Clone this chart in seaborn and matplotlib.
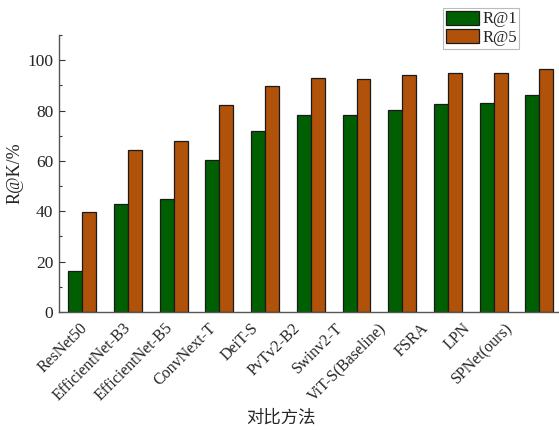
import matplotlib
matplotlib.use("Agg")
import matplotlib.pyplot as plt
from matplotlib.ticker import MultipleLocator
from matplotlib.patches import Patch
import seaborn as sns
import pandas as pd

methods = ["ResNet50", "EfficientNet-B3", "EfficientNet-B5", "ConvNext-T", "DeiT-S",
           "PvTv2-B2", "Swinv2-T", "ViT-S(Baseline)", "FSRA", "LPN", "SPNet(ours)"]
r1 = [16.4, 43.0, 45.0, 60.3, 71.8, 78.1, 78.1, 80.4, 82.7, 83.1, 86.1]
r5 = [39.6, 64.5, 67.8, 82.1, 89.8, 92.8, 92.5, 94.0, 95.1, 95.1, 96.6]
series = ["R@1", "R@5"]
colors = ["#005f00", "#b0520a"]

df = pd.DataFrame({
    "method": methods * 2,
    "value": r1 + r5,
    "metric": [series[0]] * len(methods) + [series[1]] * len(methods),
})

sns.set_style("white")
plt.rcParams["font.family"] = ["Liberation Serif", "DejaVu Serif"]

fig = plt.figure(figsize=(5.59, 4.30), dpi=100)
ax = fig.add_axes([59 / 559, 1 - 312 / 430, 1 - 59 / 559, (312 - 35) / 430])

sns.barplot(data=df, x="method", y="value", hue="metric", palette=colors,
            width=0.61, edgecolor="#1a1a1a", linewidth=0.9, saturation=1,
            ax=ax, legend=False)

ax.set_xlim(-0.51, 10.43)
ax.set_ylim(0, 110)
ax.yaxis.set_major_locator(MultipleLocator(20))
ax.yaxis.set_minor_locator(MultipleLocator(10))
ax.tick_params(axis="y", which="major", direction="in", length=4, width=0.8,
               labelsize=12.5, left=True, color="#333333", pad=4)
ax.tick_params(axis="y", which="minor", direction="in", length=2.5, width=0.8,
               left=True, color="#333333")

# tick labels in the reference are spaced slightly tighter than the bar groups
label_pos = [-0.05 + 0.93 * i for i in range(len(methods))]
ax.set_xticks(label_pos)
ax.set_xticklabels(methods)
ax.tick_params(axis="x", length=0, labelsize=11.5, pad=6)
for lab in ax.get_xticklabels():
    lab.set_rotation(45)
    lab.set_ha("right")
    lab.set_rotation_mode("anchor")

for side in ["top", "right"]:
    ax.spines[side].set_visible(False)
for side in ["left", "bottom"]:
    ax.spines[side].set_color("#555555")
    ax.spines[side].set_linewidth(1.0)

ax.set_ylabel("R@K/%", fontsize=13, labelpad=3)
ax.set_xlabel("对比方法", fontsize=12.5, family=["Noto Sans CJK SC", "DejaVu Sans"], va="center")
ax.xaxis.set_label_coords((281 - 59) / 500, (312 - 418) / 277)

handles = [Patch(facecolor=c, edgecolor="#1a1a1a", linewidth=0.9) for c in colors]
leg = fig.legend(handles, series, loc="upper left", bbox_to_anchor=(443 / 559, 1 - 8 / 430),
                 fontsize=12, frameon=True, fancybox=False, handlelength=2.0,
                 handleheight=0.95, handletextpad=0.2, borderpad=0.15, labelspacing=0.1,
                 borderaxespad=0)
leg.get_frame().set_edgecolor("#aaaaaa")
leg.get_frame().set_linewidth(0.8)

fig.savefig("out.png", dpi=100)
